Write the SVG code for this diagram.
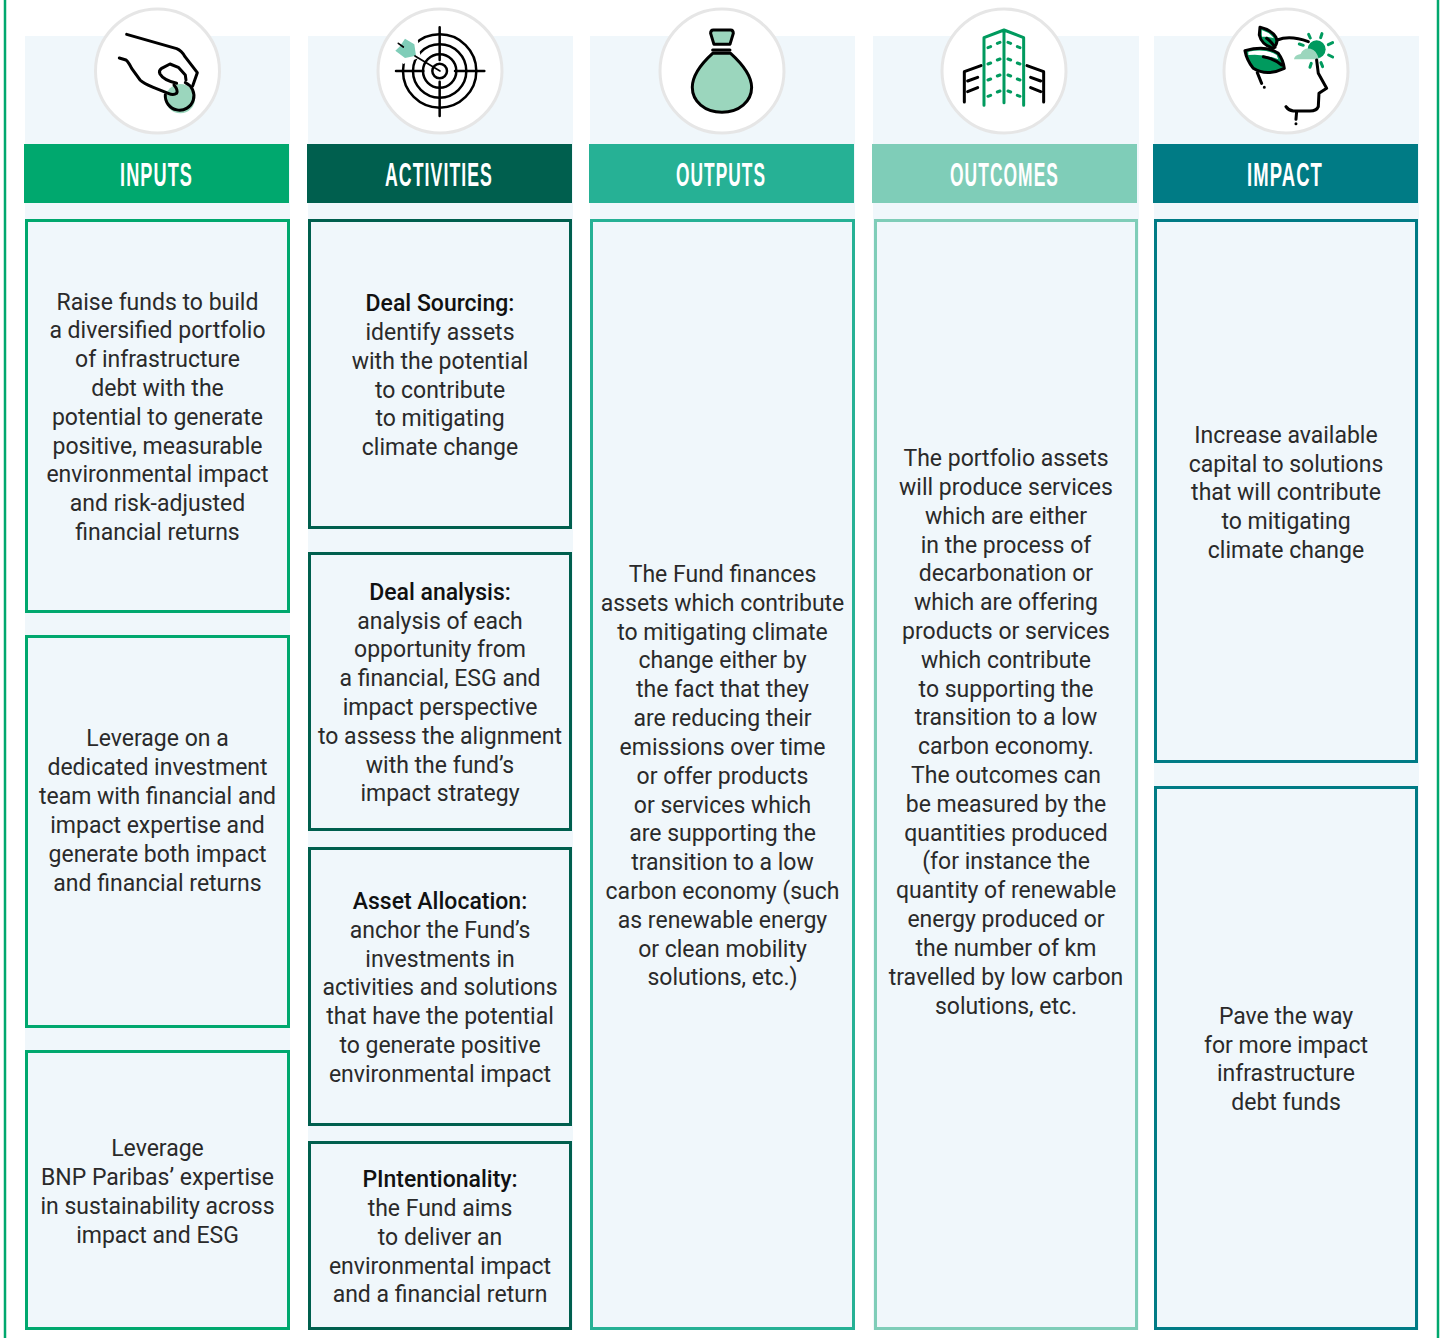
<svg xmlns="http://www.w3.org/2000/svg" width="1445" height="1338" viewBox="0 0 1445 1338">
<style>
text{font-family:Roboto,"Noto Sans","DejaVu Sans",sans-serif;font-size:23px;fill:#2a2a2a;text-anchor:middle}
.b{font-weight:500;fill:#111}
.h{font-family:"Liberation Sans",sans-serif;font-weight:700;font-size:33px;fill:#fff;letter-spacing:2px}
.bg{fill:#f0f7fb}
.box{fill:#f0f7fb;stroke-width:3}
.c{fill:#fff;stroke:#e6e6e6;stroke-width:3}
.k{fill:none;stroke:#000;stroke-width:9;stroke-linecap:round;stroke-linejoin:round}
.t{fill:none;stroke:#000;stroke-width:7.500;stroke-linecap:round;stroke-linejoin:round}
.g{fill:none;stroke:#009a5e;stroke-width:9;stroke-linecap:round;stroke-linejoin:round}
.m{fill:#9bd6bd}
.col1{stroke:#00a86e}.col2{stroke:#005f4e}.col3{stroke:#26b195}.col4{stroke:#7fcdb8}.col5{stroke:#007b85}
</style>
<rect width="1445" height="1338" fill="#fff"/>
<g id="frame" fill="none" stroke="#00a86e" stroke-width="2.500"><path d="M5 0V1338M1438 0V1338"/></g>
<g id="connectors"/>
<g id="backgrounds">
<rect class="bg" x="25" y="36" width="265" height="1294"/>
<rect class="bg" x="308" y="36" width="265" height="1294"/>
<rect class="bg" x="590" y="36" width="265" height="1294"/>
<rect class="bg" x="873" y="36" width="266" height="1294"/>
<rect class="bg" x="1154" y="36" width="265" height="1294"/>
</g>
<g id="inputs-header">
<circle class="c" cx="157.500" cy="71" r="62"/>
<g transform="scale(.3333)">
<circle class="m" cx="541" cy="296" r="44"/>
<path class="k" d="M380 103L530 146Q545 152 555 170L592 218L578 258M358 174L378 180Q385 185 395 205L420 240Q430 250 460 262L505 280Q520 287 530 280Q535 270 522 255"/>
<path class="k" d="M530 250Q490 240 480 222Q475 212 485 205L510 192L535 202L556 225L558 240"/>
<path class="k" d="M556 248A43 43 0 1 1 496 284"/>
</g>
<rect x="24" y="144" width="265" height="59" fill="#00a86e"/>
<text class="h" x="156.500" y="186" textLength="73" lengthAdjust="spacingAndGlyphs">INPUTS</text>
</g>
<g id="activities-header">
<circle class="c" cx="440" cy="71" r="62"/>
<g transform="translate(360 0) scale(.3333)">
<circle class="t" cx="239" cy="213" r="110"/>
<circle class="t" cx="239" cy="213" r="80"/>
<circle class="t" cx="239" cy="213" r="50"/>
<circle class="t" cx="239" cy="213" r="22"/>
<path d="M100 112L172 112L182 172L130 192L92 160Z" fill="#fff"/>
<path d="M135 116L163 133L168 167L135 174L106 152L120 139Z" fill="#7fcdb8"/>
<path class="t" d="M108 213H190M285 213H373M239 82V180M239 245V348"/>
<path class="t" d="M115 130L130 141M165 168L240 213" style="stroke-width:5"/>
</g>
<rect x="307" y="144" width="265" height="59" fill="#005f4e"/>
<text class="h" x="439" y="186" textLength="108" lengthAdjust="spacingAndGlyphs">ACTIVITIES</text>
</g>
<g id="outputs-header">
<circle class="c" cx="722" cy="71" r="62"/>
<path class="m" d="M714 53C703 63 692 75 692 88C692 103 705 112 722 112C739 112 752 103 752 88C752 75 741 63 730 53ZM711 30H733L730 44H714Z"/>
<g transform="translate(360 0) scale(.3333)">
<path class="k" d="M1058 160C1025 190 997 225 997 262C997 305 1035 337 1086 337C1137 337 1175 305 1175 262C1175 225 1145 190 1112 160ZM1058 150H1110M1062 133H1110L1120 100Q1120 90 1112 90H1060Q1052 90 1052 100Z"/>
</g>
<rect x="589" y="144" width="265" height="59" fill="#26b195"/>
<text class="h" x="721" y="186" textLength="90" lengthAdjust="spacingAndGlyphs">OUTPUTS</text>
</g>
<g id="outcomes-header">
<circle class="c" cx="1004" cy="71" r="62"/>
<g transform="translate(920 0) scale(.3333)">
<path class="g" d="M192 316V113L252 90L311 113V316M252 90V308"/>
<path class="g" d="M204 143L212 140M232 130L240 127M204 192L212 189M232 180L240 177M204 240L212 237M232 228L240 225M204 289L212 286M232 276L240 273M264 127L272 130M292 140L300 143M264 177L272 180M292 189L300 192M264 225L272 228M292 237L300 240M264 273L272 276M292 286L300 289"/>
<path class="k" d="M133 306V215L183 197M143 243L173 232M143 275L173 263M371 306V215L321 197M332 232L362 243M332 263L362 275"/>
</g>
<rect x="872" y="144" width="265" height="59" fill="#7fcdb8"/>
<text class="h" x="1004.500" y="186" textLength="109" lengthAdjust="spacingAndGlyphs">OUTCOMES</text>
</g>
<g id="impact-header">
<circle class="c" cx="1286" cy="71" r="62"/>
<g transform="translate(920 0) scale(.3333)">
<circle cx="1190" cy="148" r="27" fill="#009a5e"/>
<path class="m" d="M1122 178Q1124 165 1142 162Q1150 142 1172 146Q1190 150 1197 178Z"/>
<path class="g" d="M1166 103L1171 114M1206 101L1202 113M1238 128L1225 134M1238 171L1226 165M1208 200L1203 188M1170 202L1174 190M1138 132L1150 136"/>
<path class="k" d="M1072 120Q1110 105 1165 125M1190 180L1195 220L1220 265L1197 280L1195 320Q1190 333 1170 333H1120Q1105 331 1098 320M1130 335L1128 358M1128 371V371M1012 218L1025 250M1033 262V262"/>
<path d="M975 152Q1040 135 1075 160Q1090 180 1093 205Q1040 230 1000 205Q980 180 975 152Z" fill="#009a5e"/>
<path d="M985 155Q1040 145 1070 165L1075 178Q1030 160 985 165Z" fill="#fff"/>
<path class="k" d="M975 152Q1040 135 1075 160Q1090 180 1093 205Q1040 230 1000 205Q980 180 975 152ZM1030 170Q1060 175 1085 195"/>
<path d="M1020 82Q1055 90 1068 112Q1076 130 1060 145Q1025 135 1018 105Z" fill="#009a5e"/>
<path d="M1025 90Q1050 98 1062 115L1042 110L1026 110Z" fill="#fff"/>
<path class="k" d="M1020 82Q1055 90 1068 112Q1076 130 1060 145Q1025 135 1018 105ZM1040 115Q1055 125 1065 142"/>
</g>
<rect x="1153" y="144" width="265" height="59" fill="#007b85"/>
<text class="h" x="1285" y="186" textLength="76" lengthAdjust="spacingAndGlyphs">IMPACT</text>
</g>
<g id="input-1"><rect class="box col1" x="26.500" y="220.500" width="262" height="391"/>
<g transform="translate(157.500 0)">
<text y="310">Raise funds to build</text><text y="338">a diversified portfolio</text><text y="367">of infrastructure</text><text y="396">debt with the</text><text y="425">potential to generate</text><text y="454">positive, measurable</text><text y="482">environmental impact</text><text y="511">and risk-adjusted</text><text y="540">financial returns</text></g></g>
<g id="input-2"><rect class="box col1" x="26.500" y="636.500" width="262" height="390"/>
<g transform="translate(157.500 0)">
<text y="746">Leverage on a</text><text y="775">dedicated investment</text><text y="804">team with financial and</text><text y="833">impact expertise and</text><text y="862">generate both impact</text><text y="891">and financial returns</text></g></g>
<g id="input-3"><rect class="box col1" x="26.500" y="1051.500" width="262" height="277"/>
<g transform="translate(157.500 0)">
<text y="1156">Leverage</text><text y="1185">BNP Paribas’ expertise</text><text y="1214">in sustainability across</text><text y="1243">impact and ESG</text></g></g>
<g id="activity-1"><rect class="box col2" x="309.500" y="220.500" width="261" height="307"/>
<g transform="translate(440 0)">
<text class="b" y="311">Deal Sourcing:</text><text y="340">identify assets</text><text y="369">with the potential</text><text y="398">to contribute</text><text y="426">to mitigating</text><text y="455">climate change</text></g></g>
<g id="activity-2"><rect class="box col2" x="309.500" y="553.500" width="261" height="276"/>
<g transform="translate(440 0)">
<text class="b" y="600">Deal analysis:</text><text y="629">analysis of each</text><text y="657">opportunity from</text><text y="686">a financial, ESG and</text><text y="715">impact perspective</text><text y="744">to assess the alignment</text><text y="773">with the fund’s</text><text y="801">impact strategy</text></g></g>
<g id="activity-3"><rect class="box col2" x="309.500" y="848.500" width="261" height="276"/>
<g transform="translate(440 0)">
<text class="b" y="909">Asset Allocation:</text><text y="938">anchor the Fund’s</text><text y="967">investments in</text><text y="995">activities and solutions</text><text y="1024">that have the potential</text><text y="1053">to generate positive</text><text y="1082">environmental impact</text></g></g>
<g id="activity-4"><rect class="box col2" x="309.500" y="1142.500" width="261" height="186"/>
<g transform="translate(440 0)">
<text class="b" y="1187">PIntentionality:</text><text y="1216">the Fund aims</text><text y="1245">to deliver an</text><text y="1274">environmental impact</text><text y="1302">and a financial return</text></g></g>
<g id="output-1"><rect class="box col3" x="591.500" y="220.500" width="262" height="1108"/>
<g transform="translate(722.500 0)">
<text y="582">The Fund finances</text><text y="611">assets which contribute</text><text y="640">to mitigating climate</text><text y="668">change either by</text><text y="697">the fact that they</text><text y="726">are reducing their</text><text y="755">emissions over time</text><text y="784">or offer products</text><text y="813">or services which</text><text y="841">are supporting the</text><text y="870">transition to a low</text><text y="899">carbon economy (such</text><text y="928">as renewable energy</text><text y="957">or clean mobility</text><text y="985">solutions, etc.)</text></g></g>
<g id="outcome-1"><rect class="box col4" x="875.500" y="220.500" width="261" height="1108"/>
<g transform="translate(1006 0)">
<text y="466">The portfolio assets</text><text y="495">will produce services</text><text y="524">which are either</text><text y="553">in the process of</text><text y="581">decarbonation or</text><text y="610">which are offering</text><text y="639">products or services</text><text y="668">which contribute</text><text y="697">to supporting the</text><text y="725">transition to a low</text><text y="754">carbon economy.</text><text y="783">The outcomes can</text><text y="812">be measured by the</text><text y="841">quantities produced</text><text y="869">(for instance the</text><text y="898">quantity of renewable</text><text y="927">energy produced or</text><text y="956">the number of km</text><text y="985">travelled by low carbon</text><text y="1014">solutions, etc.</text></g></g>
<g id="impact-1"><rect class="box col5" x="1155.500" y="220.500" width="261" height="541"/>
<g transform="translate(1286 0)">
<text y="443">Increase available</text><text y="472">capital to solutions</text><text y="500">that will contribute</text><text y="529">to mitigating</text><text y="558">climate change</text></g></g>
<g id="impact-2"><rect class="box col5" x="1155.500" y="787.500" width="261" height="541"/>
<g transform="translate(1286 0)">
<text y="1024">Pave the way</text><text y="1053">for more impact</text><text y="1081">infrastructure</text><text y="1110">debt funds</text></g></g>
</svg>
